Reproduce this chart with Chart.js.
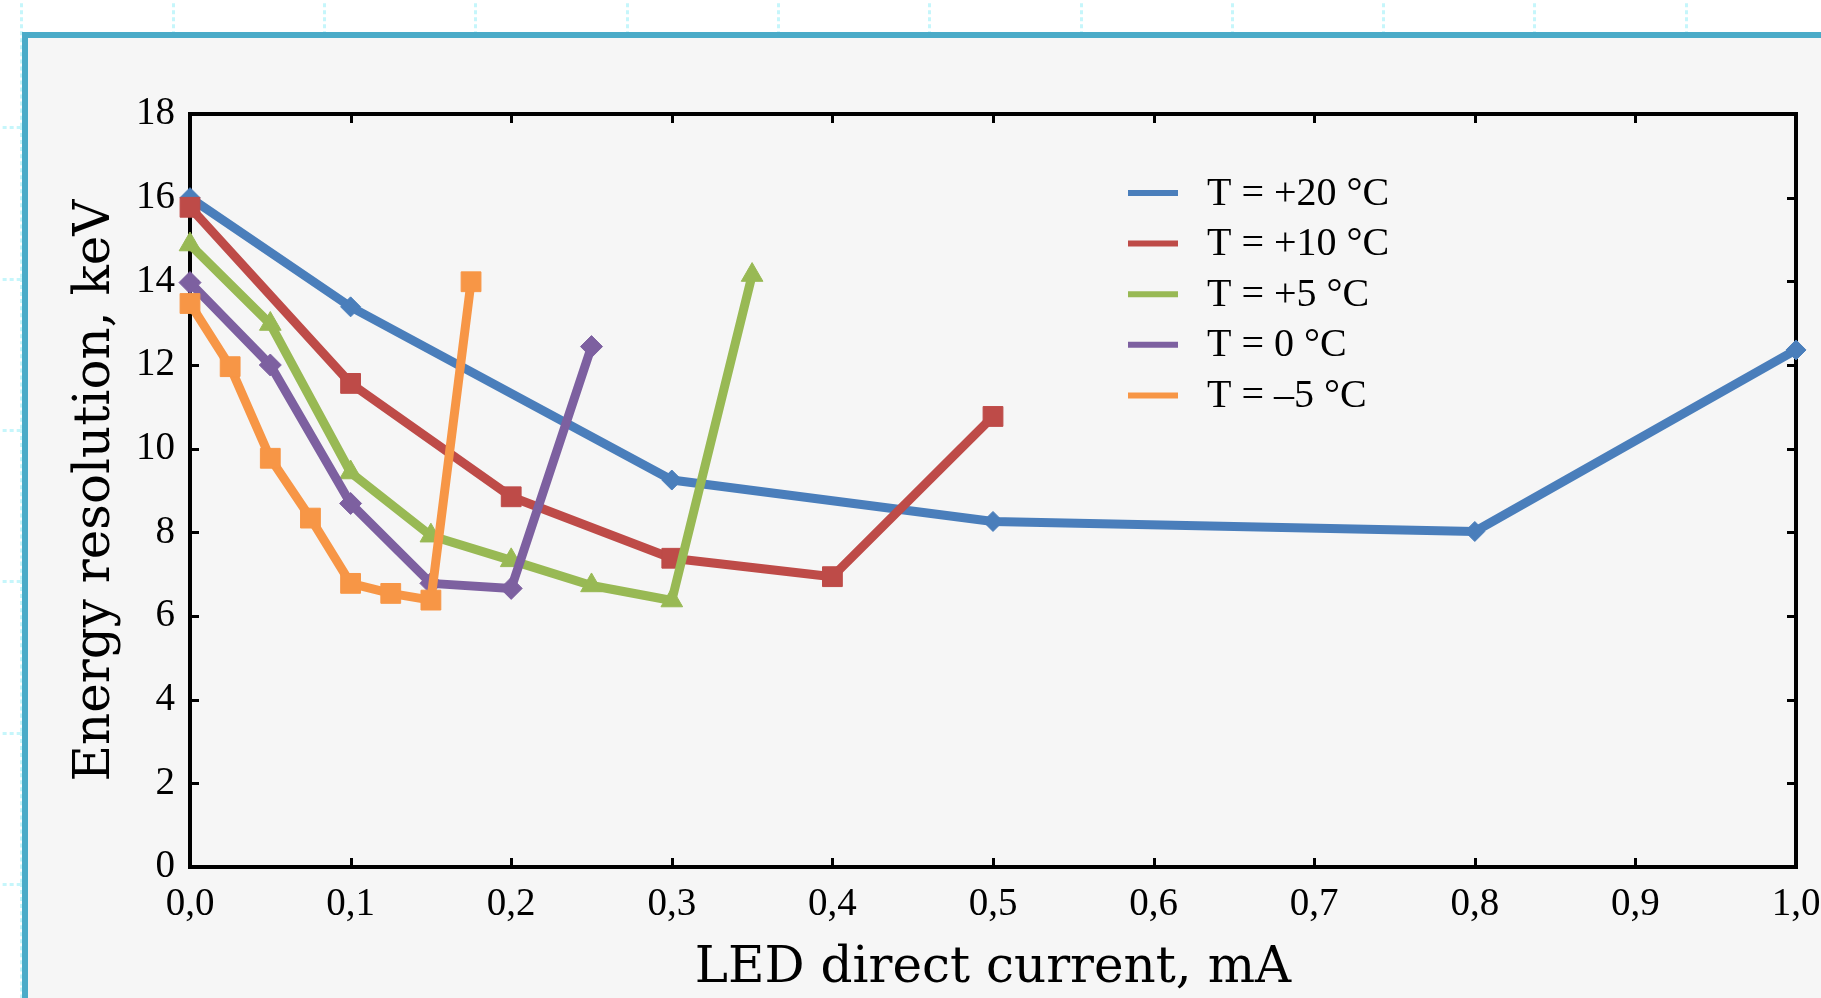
<!DOCTYPE html>
<html>
<head>
<meta charset="utf-8">
<script src="https://cdn.jsdelivr.net/npm/chart.js@4.4.1/dist/chart.umd.min.js"></script>
<style>
html,body{margin:0;padding:0;width:1821px;height:998px;overflow:hidden;background-color:#fff;}
body{
  background-image:url("data:image/svg+xml,%3Csvg xmlns='http://www.w3.org/2000/svg' width='151.3' height='151.3'%3E%3Cpath d='M1.5 0V151.3M0 1.5H151.3' stroke='%23c6f6fb' stroke-width='3' stroke-dasharray='4 3' fill='none'/%3E%3C/svg%3E");
  background-size:151.3px 151.3px;
  background-position:20.5px 126.5px;
}
#frame{position:absolute;left:22px;top:32px;width:1830px;height:1000px;border-left:6px solid #4aabc8;border-top:6px solid #4aabc8;background:#f6f6f6;}
#wrap{position:absolute;left:0;top:0;width:1821px;height:998px;}
</style>
</head>
<body>
<div id="frame"></div>
<div id="wrap"><canvas id="c" width="1821" height="998"></canvas></div>
<script>
// ---- data ----
const seriesLabels = ['T = +20 °C', 'T = +10 °C', 'T = +5 °C', 'T = 0 °C', 'T = \u20135 °C'];
const xTitle = 'LED direct current, mA';
const yTitle = 'Energy resolution, keV';

const x20 = [0, 0.1, 0.3, 0.5, 0.8, 1.0];
const y20 = [16.0, 13.39, 9.25, 8.26, 8.02, 12.36];

const x10 = [0, 0.1, 0.2, 0.3, 0.4, 0.5];
const y10 = [15.77, 11.56, 8.85, 7.38, 6.94, 10.77];

const x5 = [0, 0.05, 0.1, 0.15, 0.2, 0.25, 0.3, 0.35];
const y5 = [14.88, 12.98, 9.43, 7.92, 7.33, 6.73, 6.37, 14.15];

const x0 = [0, 0.05, 0.1, 0.15, 0.2, 0.25];
const y0 = [13.97, 12.0, 8.69, 6.78, 6.66, 12.44];

const xm5 = [0, 0.025, 0.05, 0.075, 0.1, 0.125, 0.15, 0.175];
const ym5 = [13.47, 11.96, 9.77, 8.34, 6.78, 6.54, 6.38, 13.99];

const xTicksMin = 0, xTicksMax = 1, xStep = 0.1;
const yTicksMin = 0, yTicksMax = 18, yStep = 2;

// ---- styles ----
const colors = ['#4a7ebb', '#be4b48', '#98b954', '#7d60a0', '#f79646'];
const pStyles = ['rectRot', 'rect', 'triangle', 'rectRot', 'rect'];
const pRadii = [10, 14, 12.5, 11, 14];
const xs = [x20, x10, x5, x0, xm5];
const ys = [y20, y10, y5, y0, ym5];

function pts(xa, ya) { return xa.map((x, i) => ({ x: x, y: ya[i] })); }

const datasets = seriesLabels.map((lab, i) => ({
  label: lab,
  data: pts(xs[i], ys[i]),
  showLine: true,
  borderColor: colors[i],
  backgroundColor: colors[i],
  borderWidth: 9,
  borderJoinStyle: 'round',
  pointStyle: pStyles[i],
  pointRadius: pRadii[i],
  pointBackgroundColor: colors[i],
  pointBorderColor: colors[i],
  pointBorderWidth: 1,
  clip: false,
  order: seriesLabels.length - i
}));

const frameTicks = {
  id: 'frameTicks',
  beforeDatasetsDraw(chart) {
    const ctx = chart.ctx, a = chart.chartArea;
    const sx = chart.scales.x, sy = chart.scales.y;
    ctx.save();
    ctx.strokeStyle = '#000';
    ctx.lineWidth = 3;
    const tl = 9;
    ctx.beginPath();
    sx.ticks.forEach(t => {
      if (t.value <= xTicksMin + 1e-9 || t.value >= xTicksMax - 1e-9) return;
      const px = Math.round(sx.getPixelForValue(t.value)) + 0.5;
      ctx.moveTo(px, a.bottom); ctx.lineTo(px, a.bottom - tl);
      ctx.moveTo(px, a.top); ctx.lineTo(px, a.top + tl);
    });
    sy.ticks.forEach(t => {
      if (t.value <= yTicksMin || t.value >= yTicksMax) return;
      const py = Math.round(sy.getPixelForValue(t.value)) + 0.5;
      ctx.moveTo(a.left, py); ctx.lineTo(a.left + tl, py);
      ctx.moveTo(a.right, py); ctx.lineTo(a.right - tl, py);
    });
    ctx.stroke();
    ctx.lineWidth = 4;
    ctx.lineJoin = 'miter';
    ctx.strokeRect(a.left, a.top, a.right - a.left, a.bottom - a.top);
    ctx.restore();
  }
};

const customLegend = {
  id: 'customLegend',
  afterDraw(chart) {
    const ctx = chart.ctx;
    const x0l = 1128, x1l = 1178, tx = 1207, y0l = 193, dy = 50.6;
    ctx.save();
    chart.data.datasets.forEach((ds, i) => {
      const yy = y0l + i * dy;
      ctx.strokeStyle = ds.borderColor;
      ctx.lineWidth = 6;
      ctx.lineCap = 'butt';
      ctx.beginPath(); ctx.moveTo(x0l, yy); ctx.lineTo(x1l, yy); ctx.stroke();
      ctx.fillStyle = '#000';
      ctx.font = '40px "Liberation Serif"';
      ctx.textBaseline = 'middle';
      ctx.textAlign = 'left';
      ctx.fillText(ds.label, tx, yy + 1);
    });
    ctx.restore();
  }
};

const tickFont = { family: 'Liberation Serif', size: 39 };

new Chart(document.getElementById('c'), {
  type: 'scatter',
  data: { datasets: datasets },
  options: {
    responsive: false,
    animation: false,
    devicePixelRatio: 1,
    layout: { padding: { left: 0, top: 114, right: 25, bottom: 0 } },
    plugins: { legend: { display: false }, tooltip: { enabled: false } },
    scales: {
      x: {
        type: 'linear', position: 'bottom', min: xTicksMin, max: xTicksMax,
        grid: { display: false, drawTicks: false }, border: { display: false },
        ticks: {
          stepSize: xStep, padding: 14, color: '#000', font: tickFont,
          maxRotation: 0, autoSkip: false,
          callback: v => Number(v).toFixed(1).replace('.', ',')
        },
        title: { display: true, text: xTitle, color: '#000',
                 font: { family: 'DejaVu Serif', size: 50, lineHeight: 1 },
                 padding: { top: 0, bottom: 4 } },
        afterFit(s) { s.height = 131; s.paddingLeft = 0; s.paddingRight = 0; }
      },
      y: {
        type: 'linear', position: 'left', min: yTicksMin, max: yTicksMax,
        grid: { display: false, drawTicks: false }, border: { display: false },
        ticks: { stepSize: yStep, padding: 15, color: '#000', font: tickFont },
        title: { display: true, text: yTitle, color: '#000',
                 font: { family: 'DejaVu Serif', size: 50, lineHeight: 1 },
                 padding: { top: 71, bottom: 0 } },
        afterFit(s) { s.width = 190; s.paddingTop = 0; s.paddingBottom = 0; }
      }
    }
  },
  plugins: [frameTicks, customLegend]
});
</script>
</body>
</html>
